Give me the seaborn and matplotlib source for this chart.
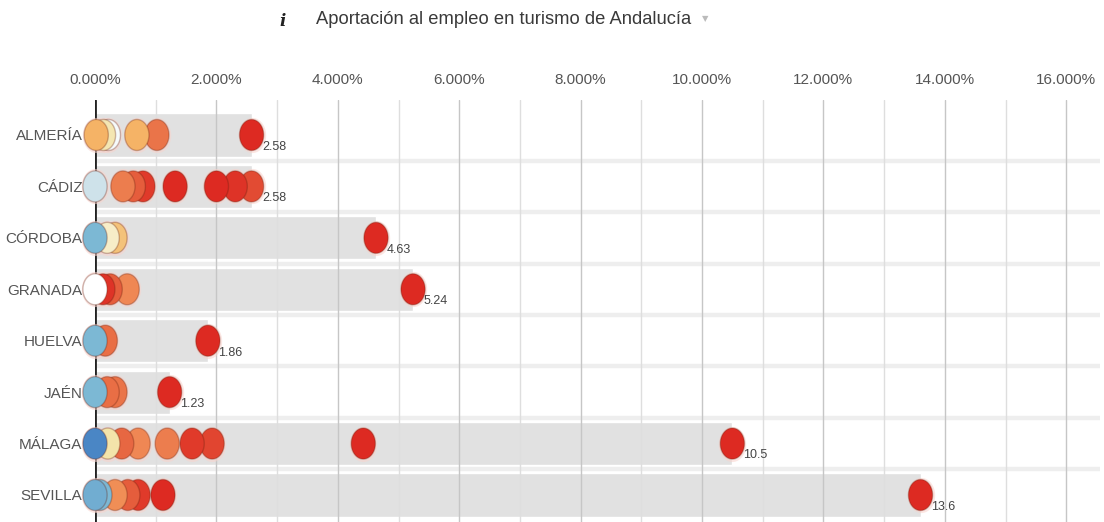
import pandas as pd
import numpy as np
import matplotlib.pyplot as plt
import seaborn as sns
from matplotlib.colors import LinearSegmentedColormap
from matplotlib.path import Path

# Datos (% de empleo en turismo)
provincias = ['ALMERÍA', 'CÁDIZ', 'CÓRDOBA', 'GRANADA', 'HUELVA', 'JAÉN', 'MÁLAGA', 'SEVILLA']

almeria_val = [0.02, 0.14, 0.22, 0.69, 1.02, 2.58]
almeria_col = [0.58, 0.47, 0.38, 0.58, 0.78, 1.0]
cadiz_val = [0.0, 0.46, 0.63, 0.79, 1.32, 2.0, 2.31, 2.58]
cadiz_col = [0.3, 0.75, 0.85, 0.95, 1.0, 1.0, 0.97, 0.9]
cordoba_val = [0.0, 0.2, 0.33, 4.63]
cordoba_col = [0.15, 0.45, 0.55, 1.0]
granada_val = [0.0, 0.13, 0.25, 0.53, 5.24]
granada_col = [0.4, 0.97, 0.85, 0.72, 1.0]
huelva_val = [0.0, 0.17, 1.86]
huelva_col = [0.15, 0.8, 1.0]
jaen_val = [0.0, 0.2, 0.33, 1.23]
jaen_col = [0.15, 0.8, 0.78, 1.0]
malaga_val = [0.0, 0.21, 0.44, 0.71, 1.19, 1.6, 1.93, 4.42, 10.5]
malaga_col = [0.0, 0.48, 0.82, 0.72, 0.75, 0.95, 0.92, 1.0, 1.0]
sevilla_val = [0.0, 0.08, 0.33, 0.54, 0.71, 1.12, 13.6]
sevilla_col = [0.12, 0.15, 0.7, 0.85, 0.95, 1.0, 1.0]

valores = [almeria_val, cadiz_val, cordoba_val, granada_val, huelva_val, jaen_val, malaga_val, sevilla_val]
colores = [almeria_col, cadiz_col, cordoba_col, granada_col, huelva_col, jaen_col, malaga_col, sevilla_col]

xticks = [0, 2, 4, 6, 8, 10, 12, 14, 16]

# %%
rows = []
for i, (p, vs, cs) in enumerate(zip(provincias, valores, colores)):
    for v, c in zip(vs, cs):
        rows.append({'provincia': p, 'fila': i, 'valor': v, 'color': c})
dots = pd.DataFrame(rows).sort_values('valor', ascending=False)

maximos = dots.groupby('provincia', sort=False)['valor'].max().reindex(provincias).reset_index()
maximos['fila'] = range(len(provincias))

cmap = LinearSegmentedColormap.from_list('rdylbu', [
    (0.0, '#4a86c5'), (0.15, '#7cb8d4'), (0.3, '#cfe3ea'), (0.4, '#ffffff'),
    (0.48, '#f3e3a8'), (0.58, '#f5b366'), (0.72, '#ef8854'), (0.85, '#e55d3c'),
    (1.0, '#dd2a22')])

# marcador elíptico (la imagen original está algo estirada en vertical)
t = np.linspace(0, 2 * np.pi, 60)
elipse = Path(np.column_stack([0.39 * np.cos(t), 0.5 * np.sin(t)]), closed=True)

sns.set_theme(style='white')
plt.rcParams['font.family'] = ['Liberation Sans', 'DejaVu Sans']

fig = plt.figure(figsize=(11.04, 5.22), dpi=100)
ax = fig.add_axes([95 / 1104, 0, 1005 / 1104, 422 / 522])

# separadores de fila
for i in range(1, len(provincias)):
    ax.axhline(i - 0.5, color='#eeeeee', lw=3.2, zorder=0)

sns.barplot(data=maximos, x='valor', y='provincia', color='#e1e1e1', width=0.84,
            orient='h', ax=ax, zorder=1, saturation=1)

# rejilla
for x in np.arange(1, 17, 1):
    ax.axvline(x, color='#c6c6c6' if x % 2 == 0 else '#dedede', lw=1, zorder=2)
ax.axvline(0, color='#222222', lw=2, zorder=3)

# puntos
ax.scatter(dots['valor'], dots['fila'], s=640, marker=elipse, color='#f9d3cc', alpha=0.55,
           linewidths=0, zorder=4, clip_on=False)
sns.scatterplot(data=dots, x='valor', y='fila', hue='color', palette=cmap, hue_norm=(0, 1),
                s=500, marker=elipse, edgecolor=(0.4, 0.12, 0.05, 0.3), linewidth=1,
                legend=False, ax=ax, zorder=5, clip_on=False)

for _, r in maximos.iterrows():
    ax.annotate(f"{r['valor']:.3g}", (r['valor'], r['fila']), xytext=(7.5, -8.5),
                textcoords='offset points', ha='left', va='center',
                fontsize=9, color='#444444', zorder=6)

ax.set_xlim(0, 1005 / 60.7)
ax.set_ylim(7.525, -0.68)
ax.xaxis.tick_top()
ax.set_xticks(xticks, [f'{t:.3f}%' for t in xticks])
ax.set_yticks(range(len(provincias)), provincias)
ax.tick_params(axis='x', length=0, pad=9, labelsize=11, labelcolor='#555555')
ax.tick_params(axis='y', length=0, pad=9, labelsize=11, labelcolor='#555555')
ax.set_xlabel('')
ax.set_ylabel('')
sns.despine(ax=ax, left=True, bottom=True, top=True, right=True)

fig.text(283 / 1104, 1 - 21 / 522, 'i', fontsize=12, fontweight='bold', fontstyle='italic',
         family='DejaVu Serif', color='#222222', va='center', ha='center')
fig.text(316 / 1104, 1 - 20 / 522, 'Aportación al empleo en turismo de Andalucía',
         fontsize=13.2, color='#3a3a3a', va='center', ha='left')
fig.text(705 / 1104, 1 - 19 / 522, '▼', fontsize=6, family='DejaVu Sans',
         color='#bbbbbb', va='center', ha='center')

plt.savefig('out.png', dpi=100)
plt.close()
